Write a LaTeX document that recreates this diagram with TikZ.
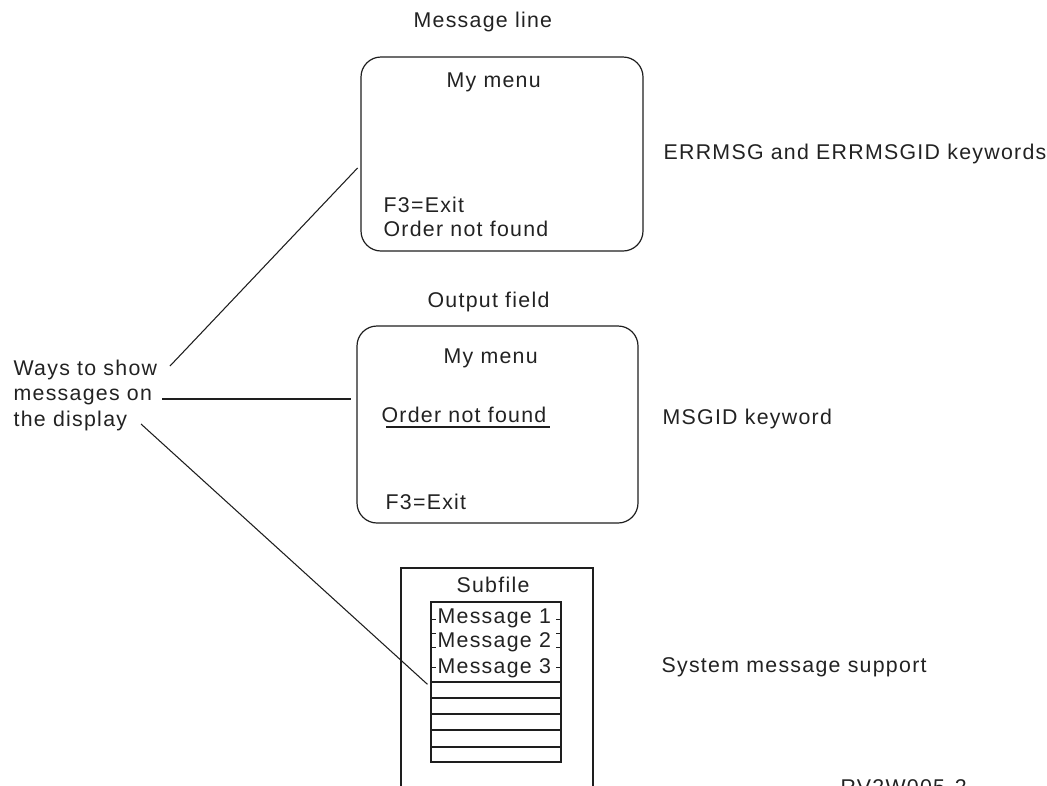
\documentclass[tikz,border=0pt]{standalone}
\usepackage{fontspec}
\setmainfont{Liberation Sans}[LetterSpace=6]
\definecolor{textgray}{RGB}{34,34,34}
\definecolor{linegray}{RGB}{30,30,30}

\tikzset{every picture/.style={line width=0.9pt}}
\tikzset{
  label text/.style={anchor=base west, inner sep=0.75pt, text=textgray, font=\fontsize{16}{19}\selectfont},
  screen/.style={draw=linegray, rounded corners=15pt, inner sep=0pt},
  listbox/.style={draw=linegray, inner sep=0pt},
  pointer/.style={draw=linegray, line width=0.8pt, shorten >=3pt},
}

\begin{document}
\begin{tikzpicture}[x=0.75pt,y=0.75pt,yscale=-1,xscale=1]
\path [use as bounding box] (0,0) rectangle (1047,786);

%Shape: Rounded Rect [message line screen]
\draw (502,154) node (menuA) [screen, minimum width=211.5pt, minimum height=145.5pt] {};
%Shape: Rounded Rect [output field screen]
\draw (497.5,424.5) node (menuB) [screen, minimum width=210.75pt, minimum height=147.75pt] {};
%Shape: Rectangle [subfile frame, open at the bottom]
\draw [linegray] (401,800) -- (401,568) -- (593,568) -- (593,800) ;
%Shape: Rectangle [subfile list]
\draw (496,682) node (msglist) [listbox, minimum width=97.5pt, minimum height=120pt] {};
%Straight Lines [empty rows]
\foreach \y in {682,698,714,730,747}
  \draw [linegray] (431,\y) -- (561,\y) ;
%Straight Lines [row marks]
\foreach \y in {619,633,647,667} {
  \draw [linegray, line width=0.6pt] (431,\y) -- (436,\y) ;
  \draw [linegray, line width=0.6pt] (556,\y) -- (561,\y) ;
}
%Straight Lines [field underline]
\draw [linegray] (386,427) -- (550,427) ;

% Text Node
\draw (412,27) node (msgline) [label text] {Message line};
% Text Node
\draw (445,87) node (titleA) [label text] {My menu};
% Text Node
\draw (382,212) node (exitA) [label text] {F3=Exit};
% Text Node
\draw (382,236) node (orderA) [label text] {Order not found};
% Text Node
\draw (662,159) node (errkw) [label text] {ERRMSG and ERRMSGID keywords};
% Text Node
\draw (426,307) node (outfield) [label text] {Output field};
% Text Node
\draw (442,363) node (titleB) [label text] {My menu};
% Text Node
\draw (380,422) node (orderB) [label text] {Order not found};
% Text Node
\draw (384,509) node (exitB) [label text] {F3=Exit};
% Text Node
\draw (661,424) node (msgidkw) [label text] {MSGID keyword};
% Text Node
\draw (12,375) node (waysA) [label text] {Ways to show};
% Text Node
\draw (12,400) node (waysB) [label text] {messages on};
% Text Node
\draw (12,426) node (waysC) [label text] {the display};
% Text Node
\draw (455,592) node (subtitle) [label text] {Subfile};
% Text Node
\draw (436,623) node (msgone) [label text] {Message 1};
% Text Node
\draw (436,647) node (msgtwo) [label text] {Message 2};
% Text Node
\draw (436,673) node (msgthree) [label text] {Message 3};
% Text Node
\draw (660,672) node (sysmsg) [label text] {System message support};
% Text Node
\draw (839,794) node (figid) [label text] {RV2W005-2};

%Straight Lines [pointers]
\coordinate (fromA) at (170,366);
\coordinate (fromB) at (162,399);
\coordinate (fromC) at (141,424);
\draw [pointer] (fromA) -- (menuA.west |- 0,165) ;
\draw [pointer, shorten >=3.75pt] (fromB) -- (menuB.west |- fromB) ;
\draw [pointer] (fromC) -- (msglist.west |- 0,687) ;

\end{tikzpicture}
\end{document}
